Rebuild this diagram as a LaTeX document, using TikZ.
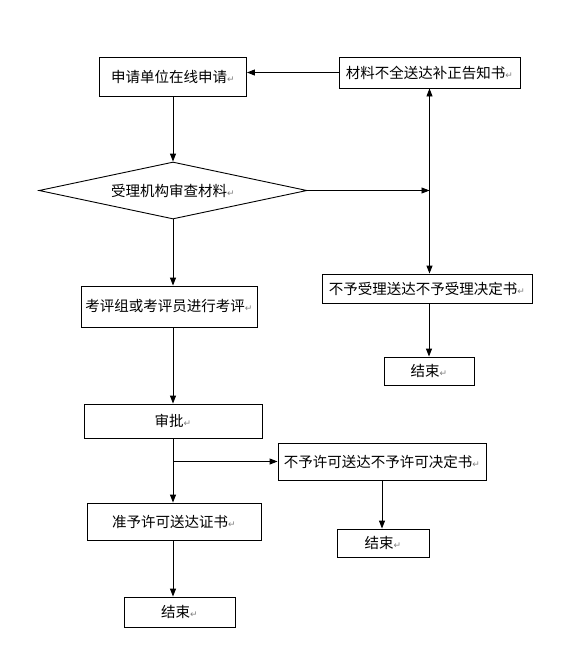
\documentclass[tikz,border=0pt]{standalone}
\usepackage{fontspec}
\setmainfont{Noto Sans CJK SC}
\newfontfamily\marksfont{DejaVu Sans}
\usetikzlibrary{shapes.geometric}
\usetikzlibrary{arrows.meta}
\newcommand\pmark{{\marksfont\fontsize{9}{9}\selectfont\color{gray}↵}}

\begin{document}
\begin{tikzpicture}[x=1pt,y=-1pt,
  box/.style={draw, line width=0.9pt, inner sep=0pt, font=\fontsize{14.5}{16}\selectfont},
  link/.style={line width=0.9pt, -{Triangle[length=8pt,width=6pt]}},
  twoway/.style={line width=0.9pt, {Triangle[length=8pt,width=6pt]}-{Triangle[length=8pt,width=6pt]}}]
\useasboundingbox (0,0) rectangle (562,646);
\node[box, minimum width=147pt, minimum height=39pt] (apply) at (173,76.5) {申请单位在线申请\pmark};
\node[box, minimum width=181pt, minimum height=31pt] (notice) at (429.5,72.5) {材料不全送达补正告知书\pmark};
\node[box, shape=diamond, aspect=4.7, minimum width=268pt, minimum height=57pt] (check) at (173,190.5) {受理机构审查材料\pmark};
\node[box, minimum width=210pt, minimum height=29pt] (reject) at (427,288.5) {不予受理送达不予受理决定书\pmark};
\node[box, minimum width=90pt, minimum height=28pt] (endA) at (429,371) {结束\pmark};
\node[box, minimum width=176pt, minimum height=41pt] (review) at (169,306.5) {考评组或考评员进行考评\pmark};
\node[box, minimum width=178pt, minimum height=34pt] (approve) at (173,421) {审批\pmark};
\node[box, minimum width=208pt, minimum height=37pt] (deny) at (382,461.5) {不予许可送达不予许可决定书\pmark};
\node[box, minimum width=92pt, minimum height=28pt] (endB) at (383,543) {结束\pmark};
\node[box, minimum width=174pt, minimum height=37pt] (grant) at (174,521.5) {准予许可送达证书\pmark};
\node[box, minimum width=111pt, minimum height=30pt] (endC) at (179.5,612) {结束\pmark};
\draw[link] (notice.west) -- (notice.west -| apply.east);
\draw[link] (apply.south) -- (check.north);
\draw[twoway] (notice.south) -- (notice.south |- reject.north);
\draw[link] (check.east) -- (check.east -| notice.south);
\draw[link] (endA |- reject.south) -- (endA.north);
\draw[link] (check.south) -- (check.south |- review.north);
\draw[link] (check.south |- review.south) -- (approve.north);
\draw[link] (approve.south) -- (approve.south |- grant.north);
\draw[link] (approve.south |- deny.west) -- (deny.west);
\draw[link] (deny.south) -- (deny.south |- endB.north);
\draw[link] (approve.south |- grant.south) -- (approve.south |- endC.north);
\end{tikzpicture}
\end{document}
